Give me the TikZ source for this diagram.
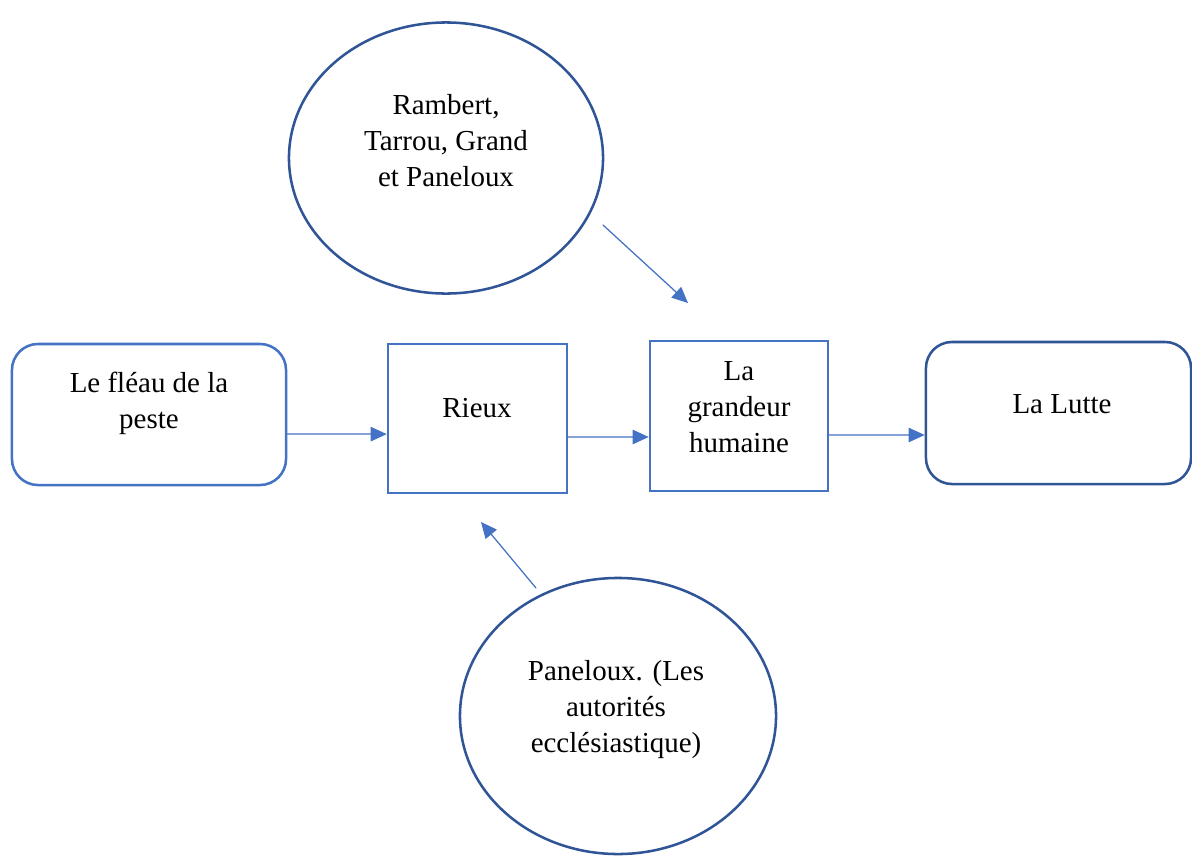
\documentclass[tikz,border=0pt]{standalone}
\usepackage{fontspec}
\setmainfont{Liberation Serif}
\usepackage{tikz}
\usetikzlibrary{arrows.meta,positioning,shapes.geometric}
\definecolor{boxblue}{HTML}{4472C4}
\definecolor{darkblue}{HTML}{2F5597}

\tikzset{
  stepbox/.style={draw=boxblue, line width=1.8pt, minimum width=#1},
  roundbox/.style={rounded corners=0.65cm, line width=1.8pt},
  ring/.style={ellipse, draw=darkblue, line width=1.8pt},
  label text/.style={align=center, inner sep=0pt, font=\fontsize{20.6}{25.6}\selectfont},
  link/.style={draw=boxblue, line width=0.9pt, -{Triangle[length=0.4cm,width=0.36cm]}}
}

\begin{document}
\begin{tikzpicture}[x=0.025cm,y=-0.025cm,line cap=round]
  \useasboundingbox (0,0) rectangle (1192,857);
  % the row of boxes
  \node[roundbox, draw=boxblue, minimum width=6.85cm, minimum height=3.525cm] (fleau) at (149,414.5) {};
  \node[stepbox=4.475cm, minimum height=3.725cm] (rieux) at (477.5,418.5) {};
  \node[stepbox=4.45cm, minimum height=3.75cm] (grandeur) at (739,416) {};
  \node[roundbox, draw=darkblue, minimum width=6.625cm, minimum height=3.55cm] (lutte) at (1058.5,413) {};
  % the two ellipses
  \node[ring, minimum width=7.85cm, minimum height=6.775cm] (amis) at (446,158) {};
  \node[ring, minimum width=7.9cm, minimum height=6.9cm] (eglise) at (618,716) {};
  % texts
  \node[label text] (tfleau) at (149,403) {Le fléau de la\\peste};
  \node[label text] (trieux) at (477,408) {Rieux};
  \node[label text] (tgrandeur) at (739,407) {La\\grandeur\\humaine};
  \node[label text] (tlutte) at (1062,404) {La Lutte};
  \node[label text] (tamis) at (446,141) {Rambert,\\Tarrou, Grand\\et Paneloux};
  \node[label text] (teglise) at (616,710) {Paneloux. (Les\\autorités\\ecclésiastique)};
  % connectors
  \draw[link] ([yshift=-0.49cm]fleau.east) -- ([yshift=-0.39cm]rieux.west);
  \draw[link] ([yshift=-0.46cm]rieux.east) -- ([yshift=-0.525cm]grandeur.west);
  \draw[link] ([yshift=-0.475cm]grandeur.east) -- ([yshift=-0.55cm]lutte.west);
  \coordinate (amis out) at (603,225);
  \coordinate (grandeur in) at (688,303);
  \coordinate (eglise out) at (536,588);
  \coordinate (rieux in) at (481,522);
  \draw[link] (amis out) -- (grandeur in);
  \draw[link] (eglise out) -- (rieux in);
\end{tikzpicture}
\end{document}
